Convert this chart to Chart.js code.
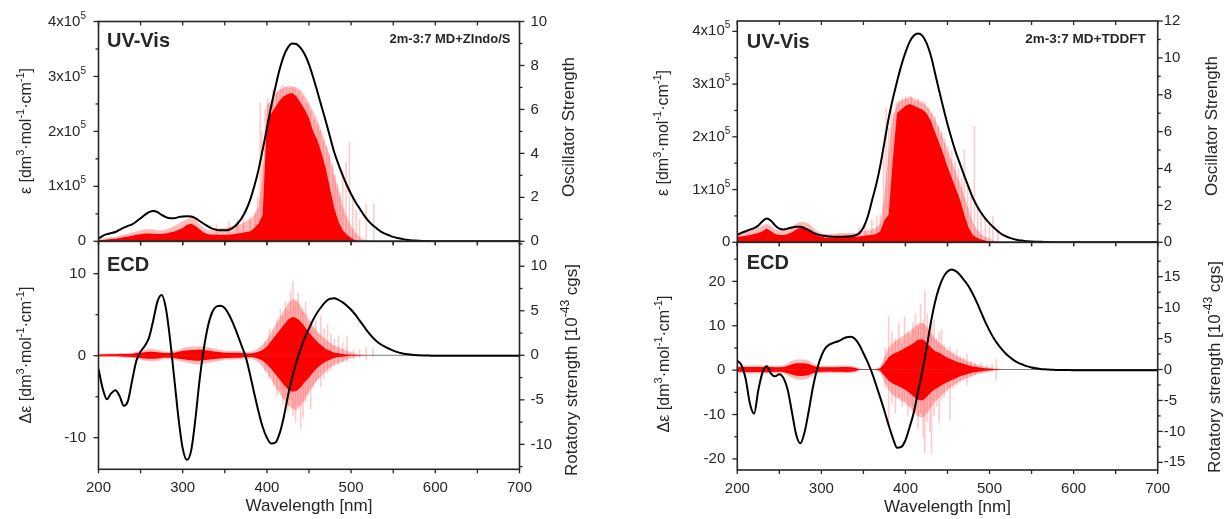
<!DOCTYPE html>
<html><head><meta charset="utf-8">
<script src="https://cdn.jsdelivr.net/npm/chart.js@4/dist/chart.umd.min.js"></script>
<style>
html,body{margin:0;padding:0;background:#fff;}
#wrap{position:relative;width:1227px;height:519px;overflow:hidden;background:#fff;}
canvas{position:absolute;left:0;top:0;}
</style></head><body>
<div id="wrap">
<canvas id="c1" width="1227" height="519"></canvas>
<canvas id="c2" width="1227" height="519"></canvas>
<canvas id="c3" width="1227" height="519"></canvas>
<canvas id="c4" width="1227" height="519"></canvas>
</div>
<script>
// ---------- data ----------
const wavelength = [
200,205,210,215,220,225,230,235,240,245,
250,255,260,265,270,275,280,285,290,295,
300,305,310,315,320,325,330,335,340,345,
350,355,360,365,370,375,380,385,390,395,
400,405,410,415,420,425,430,435,440,445,
450,455,460,465,470,475,480,485,490,495,
500,505,510,515,520,525,530,535,540,545,
550,555,560,565,570,575,580,585,590,595,
600,605,610,615,620,625,630,635,640,645,
650,655,660,665,670,675,680,685,690,695,
700];
// epsilon in units of 1e5 dm3 mol-1 cm-1
const uvZindo = [
0.05,0.10,0.13,0.15,0.17,0.21,0.25,0.28,0.31,0.36,
0.42,0.48,0.53,0.55,0.53,0.48,0.44,0.42,0.42,0.44,
0.45,0.455,0.45,0.42,0.37,0.32,0.27,0.23,0.21,0.20,
0.20,0.21,0.25,0.32,0.42,0.56,0.75,1.00,1.30,1.67,
2.05,2.45,2.80,3.12,3.37,3.53,3.60,3.59,3.52,3.40,
3.22,2.98,2.72,2.45,2.18,1.90,1.62,1.40,1.20,1.02,
0.86,0.72,0.60,0.48,0.38,0.30,0.24,0.18,0.14,0.11,
0.08,0.06,0.045,0.03,0.02,0.015,0.01,0.007,0.005,0.003,
0.002,0.001,0,0,0,0,0,0,0,0,
0,0,0,0,0,0,0,0,0,0,
0];
const ecdZindo = [
-1.6,-4.0,-5.3,-4.6,-4.2,-4.9,-6.1,-5.5,-3.0,-0.6,
0.5,1.2,2.2,4.3,6.6,7.4,5.8,2.0,-2.8,-7.6,
-11.3,-12.7,-11.6,-7.8,-3.0,0.8,3.6,5.3,6.0,6.1,
5.8,5.0,3.9,2.6,1.2,-0.2,-2.3,-4.6,-6.8,-8.7,
-10.0,-10.7,-10.6,-9.5,-7.5,-4.9,-2.7,-0.8,0.8,2.2,
3.3,4.4,5.3,6.0,6.6,6.95,7.0,6.8,6.5,6.1,
5.6,5.0,4.3,3.6,2.9,2.3,1.8,1.4,1.1,0.85,
0.62,0.44,0.31,0.21,0.14,0.09,0.05,0.03,0.02,0.01,
0,0,0,0,0,0,0,0,0,0,
0,0,0,0,0,0,0,0,0,0,
0];
const uvTddft = [
0.14,0.18,0.21,0.24,0.27,0.32,0.40,0.45,0.41,0.32,
0.26,0.245,0.26,0.28,0.295,0.295,0.27,0.23,0.185,0.15,
0.13,0.12,0.11,0.105,0.105,0.105,0.11,0.115,0.13,0.17,
0.28,0.48,0.78,1.08,1.45,1.90,2.35,2.72,3.05,3.35,
3.60,3.80,3.92,3.96,3.92,3.78,3.55,3.22,2.88,2.55,
2.24,1.96,1.70,1.48,1.26,1.05,0.85,0.69,0.56,0.45,
0.36,0.28,0.21,0.15,0.11,0.08,0.055,0.04,0.03,0.02,
0.015,0.012,0.01,0.007,0.005,0.003,0.002,0.001,0,0,
0,0,0,0,0,0,0,0,0,0,
0,0,0,0,0,0,0,0,0,0,
0];
const ecdTddft = [
2.1,1.1,-2.0,-7.5,-9.8,-4.5,-0.5,0.9,-0.8,-1.4,
-0.9,-1.8,-4.5,-9.5,-14.5,-16.5,-14.0,-9.2,-3.8,0.3,
3.2,5.0,5.8,6.2,6.5,7.0,7.4,7.5,7.0,5.7,
3.8,1.8,-0.5,-3.3,-6.2,-9.2,-12.4,-15.3,-17.5,-17.3,
-15.8,-12.8,-9.5,-4.8,-0.3,4.8,10.5,15.2,18.6,20.9,
22.2,22.7,22.3,21.4,20.2,18.9,17.2,15.2,13.0,10.8,
8.9,7.2,5.8,4.6,3.6,2.8,2.1,1.6,1.2,0.85,
0.6,0.42,0.28,0.18,0.12,0.07,0.04,0.02,0.01,0.005,
0,0,0,0,0,0,0,0,0,0,
0,0,0,0,0,0,0,0,0,0,
0];

// dense stick envelopes (grid 200..520 nm)
const stickGrid = [
200,205,210,215,220,225,230,235,240,245,
250,255,260,265,270,275,280,285,290,295,
300,305,310,315,320,325,330,335,340,345,
350,355,360,365,370,375,380,385,390,395,
400,405,410,415,420,425,430,435,440,445,
450,455,460,465,470,475,480,485,490,495,
500,505,510,515,520];
const oscZindoBand = [
0.05,0.06,0.08,0.1,0.12,0.15,0.18,0.22,0.25,0.3,
0.32,0.35,0.35,0.34,0.33,0.34,0.35,0.4,0.45,0.52,
0.6,0.75,0.8,0.7,0.55,0.4,0.32,0.3,0.3,0.3,
0.3,0.3,0.32,0.35,0.38,0.42,0.45,0.6,0.8,1.2,
5.5,5.8,6.1,6.4,6.6,6.7,6.75,6.6,6.3,6.0,
5.6,5.0,4.6,4.0,3.3,2.4,1.5,0.9,0.5,0.3,
0.15,0.05,0,0,0];
const oscZindoHaze = [
0.1,0.12,0.15,0.18,0.2,0.25,0.3,0.35,0.4,0.45,
0.5,0.55,0.55,0.55,0.5,0.5,0.55,0.6,0.7,0.8,
0.9,1.0,1.1,1.0,0.8,0.6,0.5,0.5,0.55,0.6,
0.6,0.65,0.7,0.75,0.8,0.9,1.0,1.2,1.6,3.0,
6.2,6.4,6.7,6.9,7.0,7.05,7.05,7.0,6.9,6.6,
6.3,5.9,5.5,5.0,4.4,3.8,3.0,2.3,1.6,1.1,
0.7,0.4,0.2,0.1,0];
const oscTddftBand = [
0.3,0.32,0.35,0.4,0.45,0.5,0.6,0.75,0.6,0.45,
0.4,0.4,0.45,0.55,0.7,0.8,0.8,0.7,0.5,0.35,
0.3,0.25,0.25,0.25,0.28,0.3,0.3,0.3,0.3,0.32,
0.35,0.38,0.4,0.45,0.6,1.2,1.5,4.5,7.0,7.2,
7.4,7.5,7.4,7.3,7.2,7.0,6.6,6.0,5.4,4.8,
4.1,3.5,2.9,2.3,1.5,0.8,0.4,0.25,0.15,0.1,
0.05,0.02,0,0,0];
const oscTddftHaze = [
0.5,0.55,0.6,0.65,0.7,0.8,0.9,1.0,0.9,0.7,
0.65,0.7,0.75,0.85,1.0,1.1,1.1,1.0,0.8,0.6,
0.5,0.45,0.45,0.45,0.5,0.5,0.5,0.5,0.5,0.55,
0.6,0.65,0.7,0.8,1.0,2.5,5.0,6.8,7.5,7.7,
7.8,7.9,7.8,7.7,7.6,7.4,7.1,6.7,6.2,5.6,
5.0,4.4,3.8,3.2,2.5,1.8,1.1,0.7,0.45,0.3,
0.2,0.1,0.05,0,0];
const rotZindoHi = [
0.1,0.1,0.12,0.12,0.12,0.15,0.15,0.15,0.18,0.25,
0.3,0.35,0.4,0.4,0.35,0.3,0.25,0.25,0.3,0.4,
0.5,0.55,0.6,0.6,0.65,0.6,0.55,0.45,0.4,0.35,
0.3,0.3,0.3,0.3,0.25,0.2,0.2,0.25,0.4,0.6,
1.0,1.6,2.2,2.8,3.4,4.0,4.3,4.2,3.8,3.2,
2.6,2.0,1.5,1.1,0.7,0.5,0.3,0.22,0.15,0.1,
0.05,0.03,0,0,0];
const rotZindoLo = [
-0.1,-0.12,-0.12,-0.1,-0.12,-0.12,-0.15,-0.15,-0.2,-0.25,
-0.3,-0.35,-0.38,-0.4,-0.35,-0.28,-0.25,-0.28,-0.3,-0.4,
-0.45,-0.5,-0.55,-0.6,-0.6,-0.55,-0.5,-0.45,-0.4,-0.35,
-0.3,-0.3,-0.28,-0.28,-0.25,-0.2,-0.2,-0.25,-0.4,-0.6,
-1.0,-1.5,-2.1,-2.7,-3.3,-3.8,-4.1,-4.0,-3.6,-3.0,
-2.5,-1.9,-1.4,-1.0,-0.7,-0.5,-0.3,-0.2,-0.15,-0.1,
-0.05,-0.03,0,0,0];
const rotZindoHazeHi = [
0.2,0.2,0.2,0.2,0.2,0.25,0.25,0.25,0.3,0.4,
0.5,0.6,0.7,0.7,0.6,0.5,0.4,0.4,0.5,0.6,
0.8,0.9,1.0,1.0,1.0,1.0,0.9,0.8,0.7,0.6,
0.5,0.5,0.5,0.5,0.45,0.4,0.4,0.5,0.8,1.2,
1.8,2.6,3.4,4.2,5.0,5.8,6.3,6.2,5.6,4.8,
4.0,3.3,2.7,2.2,1.8,1.4,1.1,0.9,0.7,0.5,
0.35,0.2,0.1,0.05,0];
const rotZindoHazeLo = [
-0.2,-0.2,-0.2,-0.2,-0.2,-0.25,-0.25,-0.3,-0.3,-0.4,
-0.5,-0.6,-0.65,-0.7,-0.6,-0.5,-0.4,-0.45,-0.5,-0.6,
-0.75,-0.85,-0.95,-1.0,-1.0,-0.95,-0.85,-0.8,-0.7,-0.6,
-0.5,-0.5,-0.5,-0.45,-0.45,-0.4,-0.4,-0.5,-0.8,-1.3,
-1.9,-2.7,-3.5,-4.3,-5.0,-5.6,-6.0,-6.1,-5.7,-5.0,
-4.1,-3.4,-2.8,-2.3,-1.8,-1.4,-1.1,-0.9,-0.7,-0.5,
-0.35,-0.2,-0.1,-0.05,0];
const rotTddftHi = [
0.35,0.4,0.4,0.4,0.4,0.4,0.4,0.45,0.4,0.35,
0.35,0.4,0.6,0.85,1.0,1.0,1.0,0.9,0.6,0.4,
0.35,0.35,0.35,0.35,0.35,0.4,0.4,0.35,0.3,0.05,
0.02,0.02,0.02,0.05,0.2,1.0,2.0,2.5,2.8,3.1,
3.5,3.9,4.3,4.8,4.9,4.4,3.6,3.0,2.7,2.3,
1.9,1.6,1.3,1.1,0.9,0.7,0.5,0.4,0.3,0.2,
0.15,0.08,0.03,0,0];
const rotTddftLo = [
-0.35,-0.38,-0.4,-0.42,-0.4,-0.4,-0.42,-0.45,-0.4,-0.35,
-0.35,-0.4,-0.6,-0.8,-1.0,-1.05,-1.0,-0.9,-0.6,-0.4,
-0.35,-0.35,-0.33,-0.35,-0.35,-0.38,-0.4,-0.35,-0.3,-0.05,
-0.02,-0.02,-0.02,-0.05,-0.2,-1.0,-1.8,-2.3,-2.6,-2.9,
-3.3,-3.8,-4.4,-4.9,-5.0,-4.5,-3.7,-3.2,-2.8,-2.4,
-2.0,-1.7,-1.4,-1.1,-0.9,-0.7,-0.5,-0.4,-0.3,-0.2,
-0.15,-0.08,-0.03,0,0];
const rotTddftHazeHi = [
0.6,0.65,0.65,0.65,0.65,0.65,0.65,0.7,0.65,0.6,
0.6,0.7,1.0,1.4,1.6,1.6,1.6,1.4,1.0,0.7,
0.6,0.6,0.6,0.6,0.6,0.65,0.7,0.6,0.5,0.15,
0.05,0.05,0.05,0.1,0.5,2.0,3.5,4.3,4.8,5.2,
5.7,6.2,6.8,7.4,7.6,7.0,6.0,5.0,4.4,3.8,
3.2,2.7,2.3,1.9,1.6,1.3,1.0,0.8,0.6,0.45,
0.3,0.2,0.1,0.05,0];
const rotTddftHazeLo = [
-0.6,-0.62,-0.65,-0.68,-0.65,-0.65,-0.68,-0.7,-0.65,-0.6,
-0.6,-0.7,-1.0,-1.35,-1.6,-1.65,-1.6,-1.4,-1.0,-0.7,
-0.6,-0.6,-0.58,-0.6,-0.6,-0.62,-0.65,-0.6,-0.5,-0.15,
-0.05,-0.05,-0.05,-0.1,-0.5,-2.0,-3.3,-4.1,-4.6,-5.0,
-5.5,-6.1,-6.9,-7.6,-7.8,-7.2,-6.2,-5.2,-4.6,-3.9,
-3.3,-2.8,-2.3,-1.9,-1.6,-1.3,-1.0,-0.8,-0.6,-0.45,
-0.3,-0.2,-0.1,-0.05,0];

// individual faint sticks
const oscZindoNm = [340,355,365,372,380,386,389,392,394,396,398,401,404,407,412,416,419,423,427,431,434,438,442,446,449,452,456,460,463,467,471,474,478,481,484,487,490,494,498,502,506,510,518,527];
const oscZindoVal = [0.8,0.9,1.0,1.2,1.1,1.3,2.0,6.3,5.0,3.5,6.0,6.5,6.2,6.9,6.8,7.0,7.1,7.0,6.95,7.0,6.9,6.8,6.6,6.3,6.2,5.9,5.5,5.3,5.0,4.6,4.3,4.0,3.5,3.0,2.6,2.2,3.2,3.6,4.5,2.0,1.4,1.0,1.7,1.7];
const oscTddftNm = [345,352,360,366,370,374,377,380,383,386,389,392,396,400,403,407,411,415,419,423,427,431,435,439,443,447,451,455,459,463,467,470,474,478,482,486,490,495,500,504,510];
const oscTddftVal = [0.8,1.0,1.2,1.4,1.5,4.8,7.3,6.2,7.4,7.0,7.6,7.7,7.8,7.9,7.7,7.9,7.6,7.8,7.5,7.6,7.3,7.0,6.8,6.3,6.0,5.6,5.2,5.0,4.4,4.0,3.5,5.0,3.0,2.5,6.3,2.0,1.6,1.2,0.9,1.4,0.6];
const rotZindoNm = [398,403,408,412,416,419,422,425,428,431,434,437,440,443,446,449,452,455,458,461,464,468,472,476,480,485,490,495,503,510,518,526];
const rotZindoMin = [-1.8,-2.6,-3.4,-4.5,-3.9,-5.5,-4.8,-6.3,-5.0,-6.8,-7.5,-5.6,-8.3,-7.0,-5.2,-4.4,-6.0,-3.6,-3.0,-2.6,-3.5,-2.6,-2.0,-1.6,-1.2,-1.0,-0.8,-0.7,-0.4,-0.3,-0.5,-0.2];
const rotZindoMax = [1.5,3.0,2.8,4.0,5.2,4.4,6.0,5.0,7.2,8.3,6.0,7.0,5.2,4.8,6.0,3.6,4.0,3.0,3.9,2.4,4.4,3.0,3.5,2.4,1.8,2.2,1.4,2.1,0.6,0.7,0.9,0.8];
const rotTddftNm = [376,380,384,388,392,396,399,403,406,409,412,415,418,421,423,426,429,431,434,437,440,443,446,450,453,457,461,465,469,473,478,483,490,497,503,508];
const rotTddftMin = [-3.0,-9.0,-5.5,-7.0,-4.5,-6.0,-5.0,-7.5,-5.8,-8.0,-6.2,-9.5,-7.0,-11.0,-13.5,-8.5,-10.0,-13.5,-7.5,-6.0,-8.5,-5.0,-4.5,-3.5,-8.2,-3.0,-2.5,-2.0,-1.5,-2.5,-1.2,-0.9,-0.6,-0.5,-0.4,-1.7];
const rotTddftMax = [3.5,8.5,6.0,5.0,7.5,4.2,8.5,6.0,5.5,7.5,9.0,7.0,10.5,8.0,12.8,9.0,6.5,7.5,8.0,5.0,6.0,6.4,4.0,3.2,3.7,2.8,3.0,2.2,2.0,2.5,1.4,1.0,1.2,0.7,0.9,1.7];

// ticks
const xTickVals = [200,300,400,500,600,700];
const xMinorVals = [250,350,450,550,650];
const epsTickVals = [0,1,2,3,4];
const epsTickMant = ['0','1x10','2x10','3x10','4x10'];
const epsTickExp = ['','5','5','5','5'];
const epsMinor = [0.5,1.5,2.5,3.5];
const oscZindoTicks = [0,2,4,6,8,10];
const oscZindoMinor = [1,3,5,7,9];
const oscTddftTicks = [0,2,4,6,8,10,12];
const oscTddftMinor = [1,3,5,7,9,11];
const deZindoTicks = [-10,0,10];
const deZindoMinor = [-5,5];
const rotZindoTicks = [-10,-5,0,5,10];
const rotZindoMinor = [-12.5,-7.5,-2.5,2.5,7.5,12.5];
const deTddftTicks = [-20,-10,0,10,20];
const deTddftMinor = [-15,-5,5,15,25];
const rotTddftTicks = [-15,-10,-5,0,5,10,15];
const rotTddftMinor = [-12.5,-7.5,-2.5,2.5,7.5,12.5,17.5];

// ---------- drawing ----------
const FONT = '"Liberation Sans", Arial, Helvetica, sans-serif';
const INK = '#262626';
const RED = 'rgb(255,0,0)';
const HAZE = 'rgba(255,40,40,0.32)';
const PINK = 'rgba(255,0,0,0.2)';

const pts = (xs, ys) => xs.map((x, i) => ({x: x, y: ys[i]}));
const rng = (xs, lo, hi) => xs.map((x, i) => ({x: x, y: [lo[i], hi[i]]}));

function rich(ctx, segs, x, y, size, rot, bold, align) {
  ctx.save();
  ctx.translate(x, y);
  if (rot) ctx.rotate(rot);
  const fN = (bold ? 'bold ' : '') + size + 'px ' + FONT;
  const fS = (bold ? 'bold ' : '') + Math.round(size * 0.68) + 'px ' + FONT;
  let w = 0;
  segs.forEach(s => { ctx.font = s[1] ? fS : fN; w += ctx.measureText(s[0]).width; });
  let cx = align === 'left' ? 0 : (align === 'right' ? -w : -w / 2);
  ctx.textBaseline = 'middle';
  ctx.fillStyle = INK;
  segs.forEach(s => {
    ctx.font = s[1] ? fS : fN;
    ctx.fillText(s[0], cx, s[1] ? -size * 0.38 : 0);
    cx += ctx.measureText(s[0]).width;
  });
  ctx.restore();
}

const deco = {
  id: 'deco',
  afterDatasetsDraw(chart, args, o) {
    const ctx = chart.ctx, a = chart.chartArea, sc = chart.scales;
    ctx.save();
    ctx.strokeStyle = INK;
    const line = (x1, y1, x2, y2) => { ctx.beginPath(); ctx.moveTo(x1, y1); ctx.lineTo(x2, y2); ctx.stroke(); };
    ctx.lineWidth = 1.3;
    xTickVals.concat(xMinorVals).forEach(v => {
      const p = sc.x.getPixelForValue(v);
      line(p, a.top, p, a.top + 4);
      line(p, a.bottom, p, a.bottom + 4);
    });
    o.yMajor.forEach(v => { const p = sc.y.getPixelForValue(v); line(a.left - 5, p, a.left, p); });
    o.yMinor.forEach(v => { const p = sc.y.getPixelForValue(v); line(a.left - 3, p, a.left, p); });
    o.y2Major.forEach(v => { const p = sc.y2.getPixelForValue(v); line(a.right, p, a.right + 5, p); });
    o.y2Minor.forEach(v => { const p = sc.y2.getPixelForValue(v); line(a.right, p, a.right + 3, p); });
    ctx.lineWidth = 1.6;
    ctx.strokeRect(a.left, a.top, a.right - a.left, a.bottom - a.top);
    if (o.epsLabels) {
      epsTickVals.forEach((v, i) => {
        const p = sc.y.getPixelForValue(v);
        const segs = epsTickExp[i] ? [[epsTickMant[i], 0], [epsTickExp[i], 1]] : [[epsTickMant[i], 0]];
        rich(ctx, segs, a.left - o.epsPad, p, 15, 0, false, 'right');
      });
    }
    o.texts.forEach(t => rich(ctx, t.segs, t.x, t.y, t.size, t.rot || 0, t.bold, t.align));
    ctx.restore();
  }
};

const epsTitle = [['\u03b5 [dm',0],['3',1],['\u00b7mol',0],['-1',1],['\u00b7cm',0],['-1',1],[']',0]];
const deTitle = [['\u0394\u03b5 [dm',0],['3',1],['\u00b7mol',0],['-1',1],['\u00b7cm',0],['-1',1],[']',0]];
const oscTitle = [['Oscillator Strength',0]];
const rotTitle = [['Rotatory strength [10',0],['-43',1],[' cgs]',0]];
const UP = -Math.PI / 2;

function panel(id, o) {
  const yW = 60, y2W = 60, xH = o.showX ? 49 : 0;
  const lab = (vals, hide) => v => (hide || vals.indexOf(v) < 0) ? '' : String(v);
  new Chart(document.getElementById(id), {
    type: 'line',
    data: {datasets: o.datasets},
    options: {
      responsive: false, animation: false, events: [],
      layout: {padding: {left: o.a.l - yW, right: 1227 - o.a.r - y2W, top: o.a.t, bottom: 519 - o.a.b - xH}},
      plugins: {legend: {display: false}, tooltip: {enabled: false}, deco: o.deco},
      elements: {point: {radius: 0}},
      scales: {
        x: {type: 'linear', min: 200, max: 700, offset: false, display: o.showX,
            grid: {display: false, drawTicks: false}, border: {display: false},
            afterBuildTicks: s => { s.ticks = xTickVals.map(v => ({value: v})); },
            afterFit: s => { s.height = xH; },
            ticks: {padding: 10, autoSkip: false, maxRotation: 0, color: INK, font: {family: FONT, size: 15}},
            title: {display: true, text: 'Wavelength [nm]', color: INK, font: {family: FONT, size: 17, lineHeight: 1}, padding: {top: 0, bottom: 3}}},
        y: {position: 'left', min: o.yMin, max: o.yMax,
            grid: {display: false, drawTicks: false}, border: {display: false},
            afterBuildTicks: s => { s.ticks = o.yTicks.map(v => ({value: v})); },
            afterFit: s => { s.width = yW; },
            ticks: {padding: o.yPad, autoSkip: false, color: INK, font: {family: FONT, size: 15}, callback: lab(o.yTicks, o.deco.epsLabels)}},
        y2: {position: 'right', min: o.y2Min, max: o.y2Max,
            grid: {display: false, drawTicks: false}, border: {display: false},
            afterBuildTicks: s => { s.ticks = o.y2Ticks.map(v => ({value: v})); },
            afterFit: s => { s.width = y2W; },
            ticks: {padding: o.y2Pad, autoSkip: false, color: INK, font: {family: FONT, size: 15}, callback: lab(o.y2Ticks)}}
      }
    },
    plugins: [deco]
  });
}

function curve(ys) {
  return {type: 'line', data: pts(wavelength, ys), yAxisID: 'y', borderColor: '#000', borderWidth: 2,
          cubicInterpolationMode: 'monotone', pointRadius: 0, fill: false, order: 0};
}
function band(ys, color, ord) {
  return {type: 'line', data: pts(stickGrid, ys), yAxisID: 'y2', borderWidth: 0, borderColor: 'rgba(0,0,0,0)',
          backgroundColor: color, fill: 'origin', tension: 0, pointRadius: 0, order: ord};
}
function sticks(data) {
  return {type: 'bar', data: data, yAxisID: 'y2', backgroundColor: PINK, borderWidth: 0,
          barThickness: 1, grouped: false, order: 1};
}
function zeroLine() {
  return {type: 'line', data: [{x: 200, y: 0}, {x: 700, y: 0}], yAxisID: 'y2', borderColor: 'rgba(110,110,110,0.9)',
          borderWidth: 1, pointRadius: 0, fill: false, order: 4};
}

const LA = {l: 98.5, r: 519.5, t: 20.7, m: 241.3, b: 469.3};
const RA = {l: 737.3, r: 1157.7, t: 20.7, m: 242.3, b: 470};

// Left top: UV-Vis ZIndo/S
panel('c1', {
  a: {l: LA.l, r: LA.r, t: LA.t, b: LA.m}, showX: false,
  yMin: 0, yMax: 4, yTicks: epsTickVals, yPad: 12.5,
  y2Min: 0, y2Max: 10, y2Ticks: oscZindoTicks, y2Pad: 11,
  datasets: [curve(uvZindo), sticks(pts(oscZindoNm, oscZindoVal)), band(oscZindoBand, RED, 2), band(oscZindoHaze, HAZE, 3)],
  deco: {epsLabels: true, epsPad: 12.5, yMajor: epsTickVals, yMinor: epsMinor, y2Major: oscZindoTicks, y2Minor: oscZindoMinor,
    texts: [
      {segs: epsTitle, x: 27, y: 131, size: 16, rot: UP},
      {segs: oscTitle, x: 569.5, y: 127, size: 17, rot: UP},
      {segs: [['UV-Vis',0]], x: LA.l + 8.5, y: LA.t + 21, size: 20, bold: true, align: 'left'},
      {segs: [['2m-3:7 MD+ZIndo/S',0]], x: LA.r - 9, y: LA.t + 19, size: 13, bold: true, align: 'right'}
    ]}
});
// Left bottom: ECD ZIndo/S
panel('c2', {
  a: {l: LA.l, r: LA.r, t: LA.m, b: LA.b}, showX: true,
  yMin: -13.85, yMax: 13.95, yTicks: deZindoTicks, yPad: 12.5,
  y2Min: -12.8, y2Max: 12.8, y2Ticks: rotZindoTicks, y2Pad: 11,
  datasets: [curve(ecdZindo), sticks(rng(rotZindoNm, rotZindoMin, rotZindoMax)),
             band(rotZindoHi, RED, 2), band(rotZindoLo, RED, 2),
             band(rotZindoHazeHi, HAZE, 3), band(rotZindoHazeLo, HAZE, 3), zeroLine()],
  deco: {yMajor: deZindoTicks, yMinor: deZindoMinor, y2Major: rotZindoTicks, y2Minor: rotZindoMinor,
    texts: [
      {segs: deTitle, x: 27, y: 355, size: 16, rot: UP},
      {segs: rotTitle, x: 572, y: 370, size: 17, rot: UP},
      {segs: [['ECD',0]], x: LA.l + 8.5, y: LA.m + 24, size: 20, bold: true, align: 'left'}
    ]}
});
// Right top: UV-Vis TDDFT
panel('c3', {
  a: {l: RA.l, r: RA.r, t: RA.t, b: RA.m}, showX: false,
  yMin: 0, yMax: 4.196, yTicks: epsTickVals, yPad: 12,
  y2Min: 0, y2Max: 12, y2Ticks: oscTddftTicks, y2Pad: 6,
  datasets: [curve(uvTddft), sticks(pts(oscTddftNm, oscTddftVal)), band(oscTddftBand, RED, 2), band(oscTddftHaze, HAZE, 3)],
  deco: {epsLabels: true, epsPad: 7, yMajor: epsTickVals, yMinor: epsMinor, y2Major: oscTddftTicks, y2Minor: oscTddftMinor,
    texts: [
      {segs: epsTitle, x: 664, y: 133, size: 16, rot: UP},
      {segs: oscTitle, x: 1212, y: 126, size: 17, rot: UP},
      {segs: [['UV-Vis',0]], x: RA.l + 9.4, y: RA.t + 22, size: 20, bold: true, align: 'left'},
      {segs: [['2m-3:7 MD+TDDFT',0]], x: RA.r - 12, y: RA.t + 19, size: 13.5, bold: true, align: 'right'}
    ]}
});
// Right bottom: ECD TDDFT
panel('c4', {
  a: {l: RA.l, r: RA.r, t: RA.m, b: RA.b}, showX: true,
  yMin: -22.5, yMax: 28.8, yTicks: deTddftTicks, yPad: 12,
  y2Min: -16.24, y2Max: 20.56, y2Ticks: rotTddftTicks, y2Pad: 6,
  datasets: [curve(ecdTddft), sticks(rng(rotTddftNm, rotTddftMin, rotTddftMax)),
             band(rotTddftHi, RED, 2), band(rotTddftLo, RED, 2),
             band(rotTddftHazeHi, HAZE, 3), band(rotTddftHazeLo, HAZE, 3), zeroLine()],
  deco: {yMajor: deTddftTicks, yMinor: deTddftMinor, y2Major: rotTddftTicks, y2Minor: rotTddftMinor,
    texts: [
      {segs: deTitle, x: 665, y: 364, size: 16, rot: UP},
      {segs: rotTitle, x: 1215.5, y: 367, size: 17, rot: UP},
      {segs: [['ECD',0]], x: RA.l + 9.4, y: RA.m + 21, size: 20, bold: true, align: 'left'}
    ]}
});
</script>
</body></html>
